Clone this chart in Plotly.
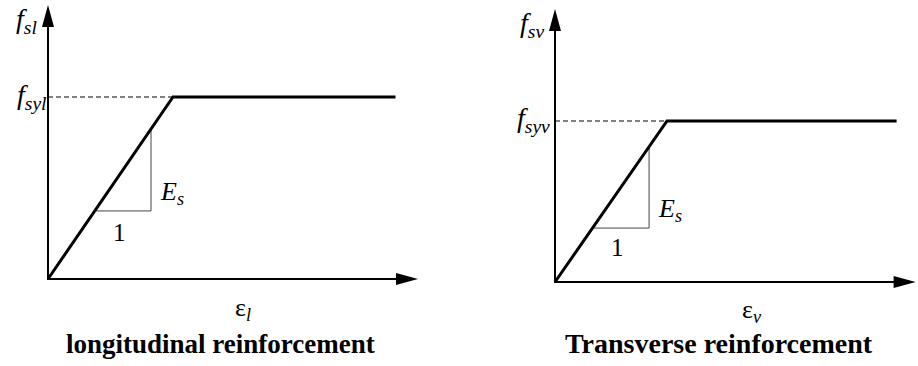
import plotly.graph_objects as go

W, H = 918, 366

# Normalised strain (eps / eps_y) and stress (f / f_y) for the two bilinear laws
strain_l = [0.0, 1.0, 2.78]
stress_l = [0.0, 1.0, 1.0]
strain_v = [0.0, 1.0, 3.05]
stress_v = [0.0, 1.0, 1.0]

# Slope triangle (start and end of the unit run, normalised strain)
slope_l = [0.374, 0.824]
slope_v = [0.335, 0.84]

# Axis extents (arrow tips): (strain, stress)
axis_end_l = (2.96, 1.505)
axis_end_v = (3.22, 1.696)

# Panel geometry: x domain, origin in px, px per unit
panels = {
    "l": dict(dom=(0.0, 0.5), ox=48, oy=279, sx=125, sy=182),
    "v": dict(dom=(0.5, 1.0), ox=555, oy=282, sx=112, sy=161),
}

SERIF = "Liberation Serif"
ARROW_LEN = 22
ARROW_HALF = 6

fig = go.Figure()


def add_panel(key, xs, ys, slope, axis_end, xa, ya):
    g = panels[key]
    xend, yend = axis_end
    # axis lines stop just short of the arrowheads
    fig.add_trace(go.Scatter(
        x=[0, 0, xend - (ARROW_LEN - 2) / g["sx"]],
        y=[yend - (ARROW_LEN - 2) / g["sy"], 0, 0],
        mode="lines", line=dict(color="black", width=2),
        xaxis=xa, yaxis=ya, hoverinfo="skip"))
    # yield level, dashed
    fig.add_trace(go.Scatter(
        x=[0, xs[1]], y=[ys[1], ys[1]], mode="lines",
        line=dict(color="black", width=1.2, dash="5px,3px"),
        xaxis=xa, yaxis=ya, hoverinfo="skip"))
    # slope triangle (elastic branch has unit slope in normalised units)
    a, b = slope
    fig.add_trace(go.Scatter(
        x=[a, b, b], y=[a, a, b], mode="lines",
        line=dict(color="#444", width=1),
        xaxis=xa, yaxis=ya, hoverinfo="skip"))
    # stress-strain law
    fig.add_trace(go.Scatter(
        x=xs, y=ys, mode="lines",
        line=dict(color="black", width=3),
        xaxis=xa, yaxis=ya, hoverinfo="skip"))
    # arrowheads
    fig.add_shape(type="path", xref=xa, yref=ya,
                  xsizemode="pixel", ysizemode="pixel",
                  xanchor=0, yanchor=yend,
                  path=f"M0,0 L{-ARROW_HALF},{-ARROW_LEN} L{ARROW_HALF},{-ARROW_LEN} Z",
                  fillcolor="black", line=dict(width=0))
    fig.add_shape(type="path", xref=xa, yref=ya,
                  xsizemode="pixel", ysizemode="pixel",
                  xanchor=xend, yanchor=0,
                  path=f"M0,0 L{-ARROW_LEN},{ARROW_HALF} L{-ARROW_LEN},{-ARROW_HALF} Z",
                  fillcolor="black", line=dict(width=0))


add_panel("l", strain_l, stress_l, slope_l, axis_end_l, "x", "y")
add_panel("v", strain_v, stress_v, slope_v, axis_end_v, "x2", "y2")


def rng(g):
    d0, d1 = g["dom"]
    return ([(d0 * W - g["ox"]) / g["sx"], (d1 * W - g["ox"]) / g["sx"]],
            [(g["oy"] - H) / g["sy"], g["oy"] / g["sy"]])


ax_common = dict(visible=False, showgrid=False, zeroline=False, fixedrange=True)
rl = rng(panels["l"])
rv = rng(panels["v"])
fig.update_layout(
    xaxis=dict(domain=list(panels["l"]["dom"]), range=rl[0], **ax_common),
    yaxis=dict(domain=[0, 1], range=rl[1], **ax_common),
    xaxis2=dict(domain=list(panels["v"]["dom"]), range=rv[0], anchor="y2", **ax_common),
    yaxis2=dict(domain=[0, 1], range=rv[1], anchor="x2", **ax_common),
)


def label(text, x, y, size, xanchor="center", bold=False):
    fig.add_annotation(
        text=text, x=x / W, y=1 - y / H, xref="paper", yref="paper",
        xanchor=xanchor, yanchor="middle", showarrow=False,
        font=dict(family=SERIF, size=size, color="black",
                  weight="bold" if bold else "normal"))


# left panel texts
label("<i>f</i><sub><i>sl</i></sub>", 39, 21, 28, xanchor="right")
label("<i>f</i><sub><i>syl</i></sub>", 49, 97, 28, xanchor="right")
label("<i>E</i><sub><i>s</i></sub>", 158, 193, 26, xanchor="left")
label("1", 119, 232, 25)
label("ε<sub><i>l</i></sub>", 243, 309, 26)
label("longitudinal reinforcement", 220, 344, 27, bold=True)

# right panel texts
label("<i>f</i><sub><i>sv</i></sub>", 546, 25, 28, xanchor="right")
label("<i>f</i><sub><i>syv</i></sub>", 552, 119, 28, xanchor="right")
label("<i>E</i><sub><i>s</i></sub>", 656, 210, 26, xanchor="left")
label("1", 617, 247, 25)
label("ε<sub><i>v</i></sub>", 752, 311, 26)
label("Transverse reinforcement", 719, 343, 28, bold=True)

fig.update_layout(
    width=W, height=H, margin=dict(l=0, r=0, t=0, b=0),
    paper_bgcolor="white", plot_bgcolor="white", showlegend=False,
)

fig.write_html("out.html")
